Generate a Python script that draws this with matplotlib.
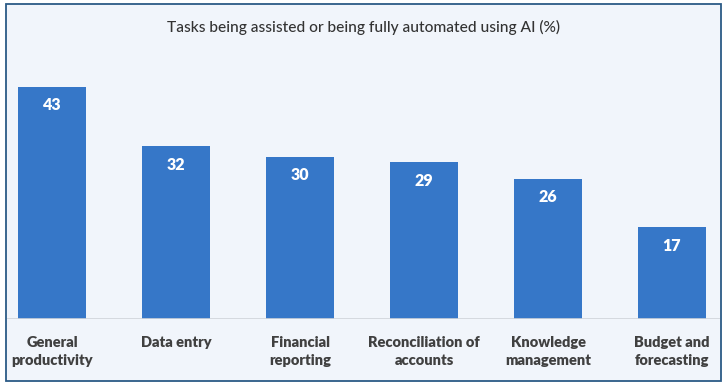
import matplotlib
matplotlib.use("Agg")
import matplotlib.pyplot as plt
from matplotlib.patches import Rectangle

categories = ["General\nproductivity", "Data entry", "Financial\nreporting",
              "Reconciliation of\naccounts", "Knowledge\nmanagement", "Budget and\nforecasting"]
values = [43, 32, 30, 29, 26, 17]
title = "Tasks being assisted or being fully automated using AI (%)"

W, H = 726, 387
fig = plt.figure(figsize=(W / 100, H / 100), dpi=100)
fig.patch.set_facecolor("white")

bg = "#F1F5FB"
frame = Rectangle((6 / W, 1 - 381 / H), (721 - 6) / W, (381 - 4) / H,
                  transform=fig.transFigure, facecolor=bg, edgecolor="#2B5A86",
                  linewidth=1.3, zorder=-5)
fig.patches.append(frame)

font = ["Lato", "DejaVu Sans"]

base_y = 319
top_y = 40
ax = fig.add_axes([7 / W, 1 - base_y / H, (720 - 7) / W, (base_y - top_y) / H])
ax.set_zorder(2)
ax.set_facecolor("none")
x = list(range(len(values)))
bars = ax.bar(x, values, width=0.55, color="#3677C8", zorder=2)
px_per_unit = 5.40
ax.set_ylim(0, (base_y - top_y) / px_per_unit)
ax.set_xlim(-(52 - 7) / 124, (720 - 52) / 124)
for s in ax.spines.values():
    s.set_visible(False)
ax.axhline(0, color="#D0D4DA", linewidth=1.2, zorder=3)
ax.set_yticks([])
ax.set_xticks(x)
ax.set_xticklabels(categories, fontsize=10.5, fontweight="heavy", color="#404040",
                   family=font, linespacing=1.45, va="top")
ax.tick_params(axis="x", length=0, pad=12)

for xi, v in zip(x, values):
    ax.annotate(str(v), (xi, v), xytext=(0, -7.5), textcoords="offset points",
                ha="center", va="top", color="white", fontsize=11.5,
                fontweight="heavy", family=font)

fig.text(364 / W, 1 - 27 / H, title, ha="center", va="center", fontsize=11.2,
         color="#333333", family=font, fontweight="medium")

fig.savefig("out.png", dpi=100)
